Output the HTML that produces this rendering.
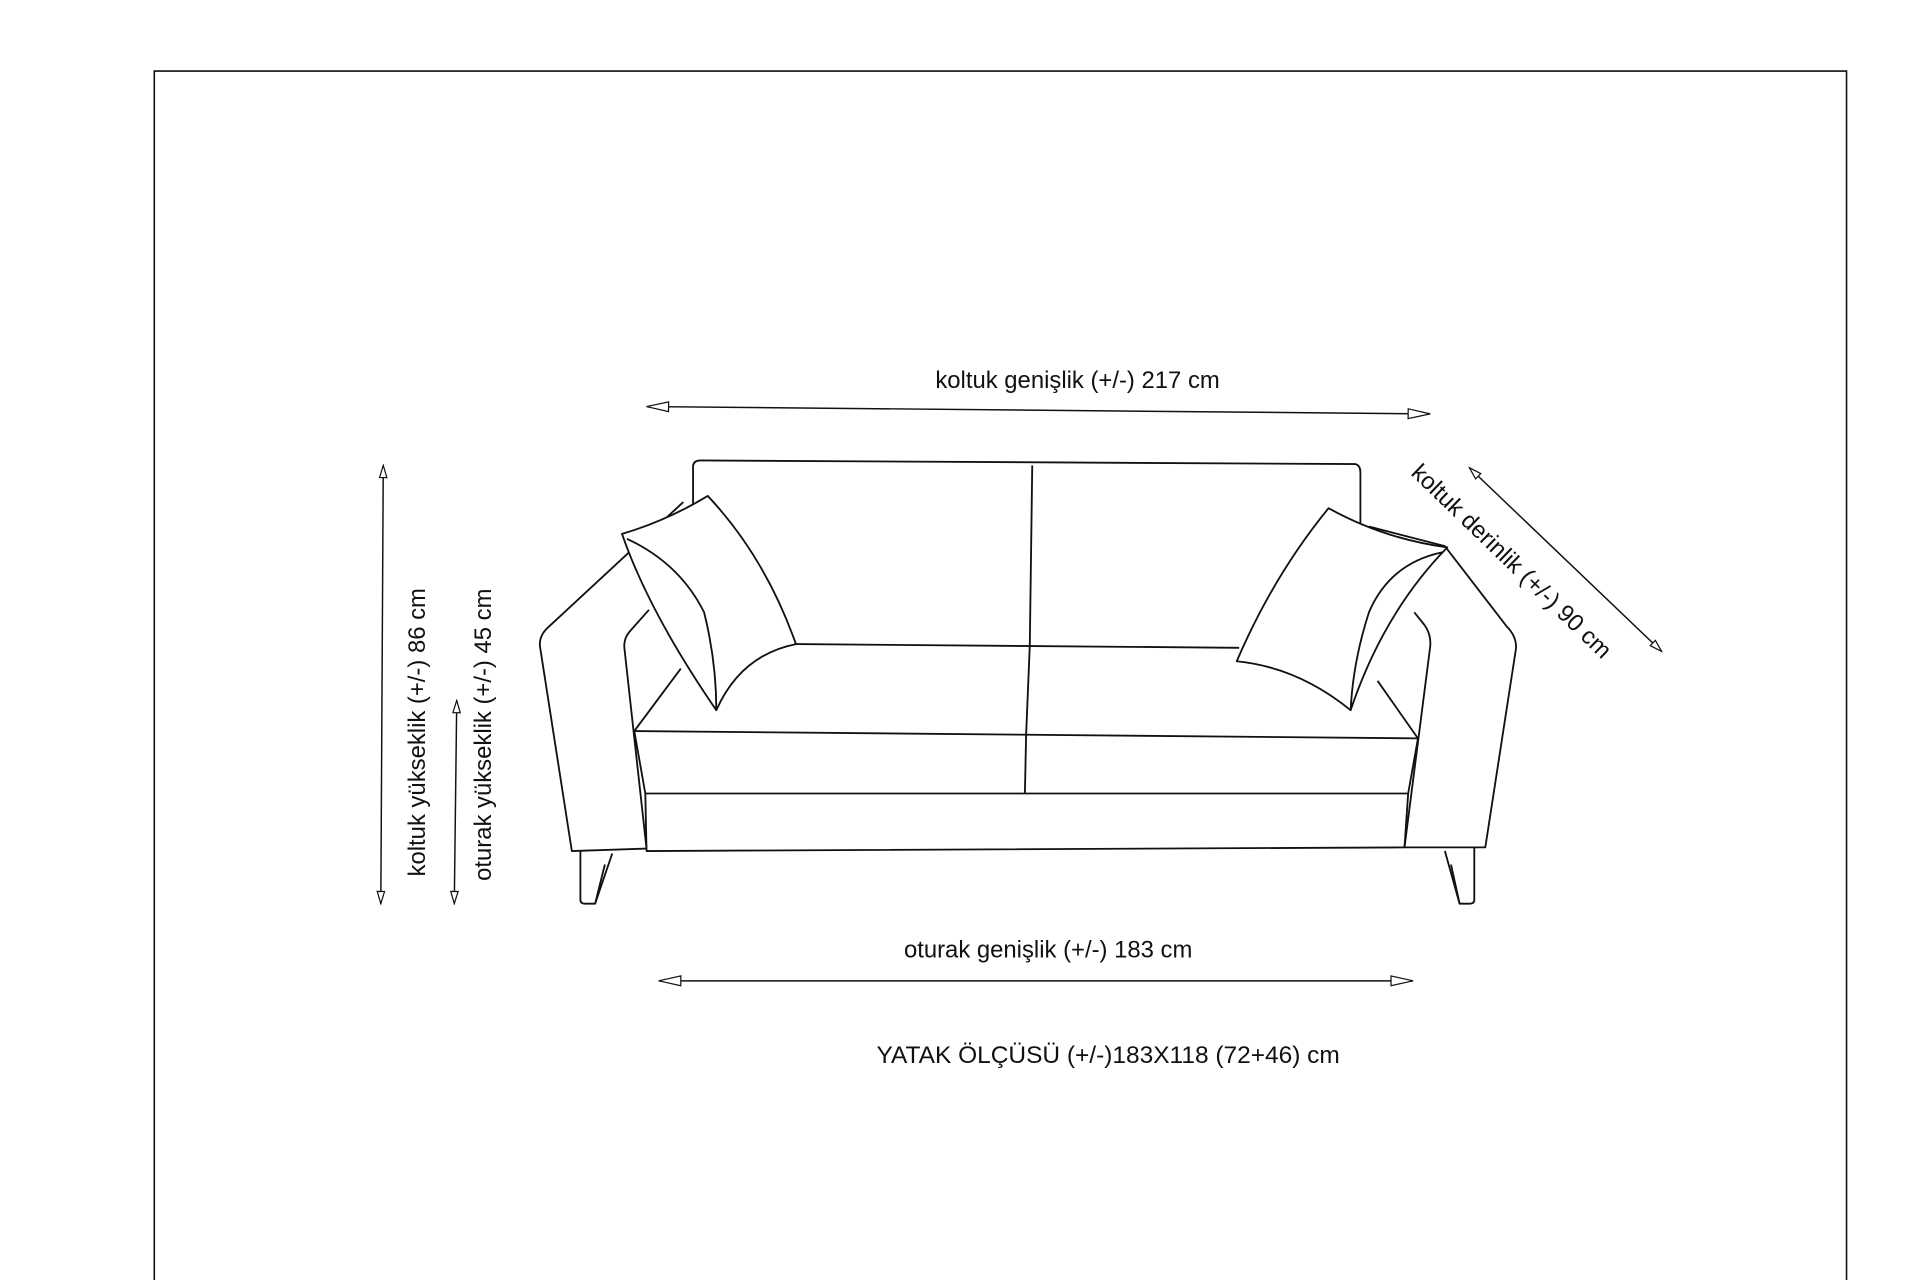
<!DOCTYPE html>
<html><head><meta charset="utf-8"><style>
html,body{margin:0;padding:0;background:#fff;width:1920px;height:1280px;overflow:hidden}
svg{display:block}
text{font-family:"Liberation Sans",sans-serif;fill:#111}
</style></head><body>
<svg width="1920" height="1280" viewBox="0 0 1568 1045.3" xmlns="http://www.w3.org/2000/svg">
<defs>
<marker id="a" viewBox="0 0 20 10" refX="19" refY="5" markerWidth="20" markerHeight="10" markerUnits="userSpaceOnUse" orient="auto-start-reverse">
<path d="M1,1 L19,5 L1,9 Z" fill="#fff" stroke="#111" stroke-width="1"/></marker>
<marker id="b" viewBox="0 0 12 8" refX="11" refY="4" markerWidth="12" markerHeight="8" markerUnits="userSpaceOnUse" orient="auto-start-reverse">
<path d="M1,1 L11,4 L1,7 Z" fill="#fff" stroke="#111" stroke-width="1"/></marker>
</defs>
<path d="M126,1046 L126,58 L1508,58 L1508,1046" fill="none" stroke="#111" stroke-width="1.3"/>
<g fill="none" stroke="#111" stroke-width="1.5" stroke-linejoin="round">
<path d="M566,415 L566,380 Q567,376 572,376 L1107,379 Q1111,380 1111,386 L1111,435"/>
<path d="M843,380 L841,527"/>
<path d="M558,410 L448,512 Q440,519 441,528 L467,695 L528,693"/>
<path d="M530,498 L514,516 Q509,522 510,530 L528,693"/>
<path d="M1118,430 L1180,446 L1230,511 Q1239,520 1238,530 L1213,692 L1147,692"/>
<path d="M1155,500 L1163,510 Q1169,518 1168,528 L1147,692"/>
<path d="M650,526 L1012,529"/>
<path d="M556,546 L518,597 L527,648 L528,695 L1147,692 L1150,648 L1158,603 L1125,556"/>
<path d="M518,597 L1158,603"/>
<path d="M527,648 L1150,648"/>
<path d="M841,527 L838,600 L837,648"/>
<path d="M474,695 L474,735 Q474,738 478,738 L486,738 L500,697"/>
<path d="M486,738 L494,706"/>
<path d="M1204,692 L1204,735 Q1204,738 1200,738 L1192,738 L1180,695"/>
<path d="M1192,738 L1185,706"/>
<path d="M508,436 Q545,425 578,405 Q625,455 650,526 Q605,535 585,580 Q530,500 508,436 Z" fill="#fff"/>
<path d="M512,440 Q555,460 575,500 Q585,540 585,580"/>
<path d="M1085,415 Q1130,440 1182,447 Q1130,500 1103,580 Q1060,545 1010,540 Q1040,470 1085,415 Z" fill="#fff"/>
<path d="M1178,451 Q1135,460 1118,500 Q1105,540 1103,580"/>
</g>
<g stroke="#111" stroke-width="1.2" fill="none">
<line x1="528" y1="332" x2="1168" y2="338" marker-start="url(#a)" marker-end="url(#a)"/>
<line x1="538" y1="801" x2="1154" y2="801" marker-start="url(#a)" marker-end="url(#a)"/>
<line x1="313" y1="380" x2="311" y2="738" marker-start="url(#b)" marker-end="url(#b)"/>
<line x1="373" y1="572" x2="371" y2="738" marker-start="url(#b)" marker-end="url(#b)"/>
<line x1="1200" y1="382" x2="1357" y2="532" marker-start="url(#b)" marker-end="url(#b)"/>
</g>
<text x="880" y="317" font-size="19.5" text-anchor="middle">koltuk genişlik (+/-) 217 cm</text>
<text x="856" y="782" font-size="19.5" text-anchor="middle">oturak genişlik (+/-) 183 cm</text>
<text x="905" y="868" font-size="20" text-anchor="middle">YATAK ÖLÇÜSÜ (+/-)183X118 (72+46) cm</text>
<text transform="translate(347,598) rotate(-90)" font-size="19.5" text-anchor="middle">koltuk yükseklik (+/-) 86 cm</text>
<text transform="translate(401,600) rotate(-90)" font-size="19.5" text-anchor="middle">oturak yükseklik (+/-) 45 cm</text>
<text transform="translate(1230,463) rotate(44)" font-size="19.5" text-anchor="middle">koltuk derinlik (+/-) 90 cm</text>
</svg>
</body></html>
